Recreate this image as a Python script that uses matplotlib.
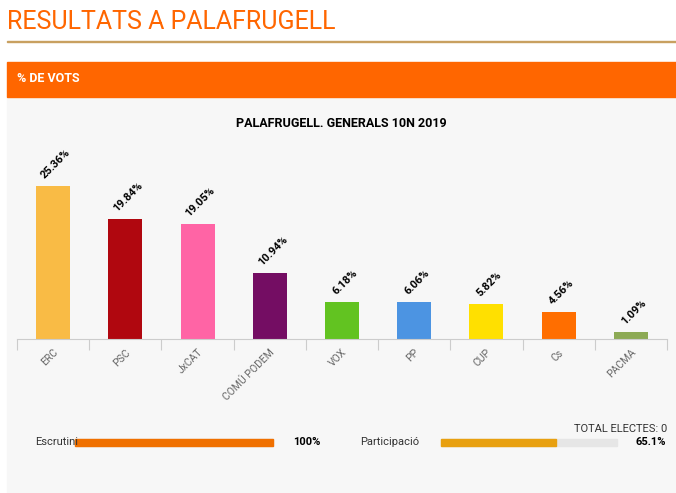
import matplotlib
matplotlib.use("Agg")
import matplotlib.pyplot as plt
from matplotlib.patches import Rectangle

parties = ["ERC", "PSC", "JxCAT", "COMÚ PODEM", "VOX", "PP", "CUP", "Cs", "PACMA"]
votes = [25.36, 19.84, 19.05, 10.94, 6.18, 6.06, 5.82, 4.56, 1.09]
colors = ["#f9bb45", "#b0070f", "#ff64a5", "#740d63", "#62c321", "#4c94e2",
          "#ffe000", "#ff6e00", "#8daa55"]
escrutini = 100.0
participacio = 65.1

plt.rcParams["font.family"] = ["Roboto", "DejaVu Sans"]
W, H = 676, 493
fig = plt.figure(figsize=(W / 100, H / 100), dpi=100)
fig.patch.set_facecolor("white")


def fx(px):
    return px / W


def fy(py):
    return 1 - py / H


# header
fig.text(fx(7), fy(22), "RESULTATS A PALAFRUGELL", color="#ff6600", fontsize=18,
         va="center", ha="left")
fig.add_artist(Rectangle((fx(7), fy(42)), fx(669), 1 / H, color="#c8a060",
                         transform=fig.transFigure))
fig.add_artist(Rectangle((fx(7), fy(97)), fx(669), 35 / H, color="#ff6600",
                         transform=fig.transFigure))
fig.text(fx(17), fy(79), "% DE VOTS", color="white", fontsize=9, fontweight="bold",
         va="center")
fig.add_artist(Rectangle((fx(7), 0), fx(669), fy(97), color="#f7f7f7",
                         transform=fig.transFigure, zorder=-1))
fig.text(fx(341), fy(124), "PALAFRUGELL. GENERALS 10N 2019", fontsize=9,
         fontweight="bold", ha="center", va="center")

# chart
ax = fig.add_axes([fx(17), fy(339), fx(650), (339 - 150) / H])
ax.set_facecolor("none")
x = range(len(parties))
bars = ax.bar(x, votes, width=0.47, color=colors)
ax.set_xlim(-0.5, len(parties) - 0.5)
ax.set_ylim(0, 189 / 6.03)
for b, v in zip(bars, votes):
    ax.annotate(f"{v:.2f}%", (b.get_x() + b.get_width() / 2, v), xytext=(2, 4),
                textcoords="offset points", rotation=45, ha="center", va="bottom",
                fontsize=8, fontweight="bold")
ax.set_xticks([i - 0.5 for i in range(len(parties) + 1)], minor=False)
ax.set_xticklabels([])
ax.set_xticks(list(x), minor=True)
ax.set_xticklabels(parties, minor=True, rotation=45, ha="right", fontsize=7.5,
                   color="#666666", rotation_mode="anchor")
ax.tick_params(axis="x", which="major", length=8, color="#cccccc")
ax.tick_params(axis="x", which="minor", length=0, pad=6)
ax.set_yticks([])
for s in ["top", "right", "left"]:
    ax.spines[s].set_visible(False)
ax.spines["bottom"].set_color("#cccccc")

# footer
fig.text(fx(667), fy(429), "TOTAL ELECTES: 0", fontsize=8, ha="right", va="center",
         color="#333333")
fig.text(fx(35), fy(442), "Escrutini", fontsize=8, va="center", color="#333333")
fig.add_artist(Rectangle((fx(75), fy(446)), fx(198), 7 / H, color="#e6e6e6",
                         transform=fig.transFigure))
fig.add_artist(Rectangle((fx(75), fy(446)), fx(198 * escrutini / 100), 7 / H,
                         color="#f07000", transform=fig.transFigure))
fig.text(fx(320), fy(442), f"{escrutini:.0f}%", fontsize=8, fontweight="bold",
         ha="right", va="center")
fig.text(fx(360), fy(442), "Participació", fontsize=8, va="center", color="#333333")
fig.add_artist(Rectangle((fx(441), fy(446)), fx(176), 7 / H, color="#e6e6e6",
                         transform=fig.transFigure))
fig.add_artist(Rectangle((fx(441), fy(446)), fx(176 * participacio / 100), 7 / H,
                         color="#e8a010", transform=fig.transFigure))
fig.text(fx(666), fy(442), f"{participacio}%", fontsize=8, fontweight="bold",
         ha="right", va="center")

fig.savefig("out.png", dpi=100)
